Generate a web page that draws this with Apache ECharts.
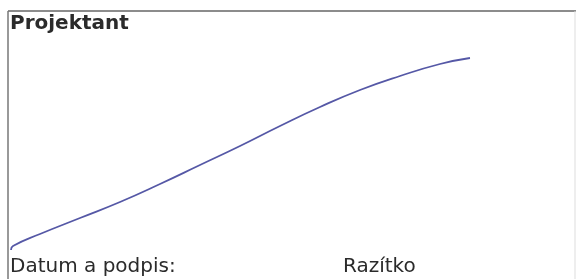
<!DOCTYPE html>
<html>
<head>
<meta charset="utf-8">
<script src="https://cdn.jsdelivr.net/npm/echarts@6/dist/echarts.min.js"></script>
<style>
  html, body { margin: 0; padding: 0; background: #fff; }
  #chart { width: 577px; height: 279px; }
</style>
</head>
<body>
<div id="chart"></div>
<script>
// signature stroke (x across, y down the page)
const strokeX = [11, 13, 40, 80, 120, 160, 200, 240, 280, 320, 360, 400, 440, 470];
const strokeY = [250, 246, 234, 218, 202, 184, 165, 146, 126, 107, 90, 76, 64, 58];

const labels = ["Projektant", "Datum a podpis:", "Razítko"];

const chart = echarts.init(document.getElementById("chart"));

chart.setOption({
  animation: false,
  title: [
    {
      text: labels[0],
      left: 10,
      top: 14,
      padding: 0,
      textStyle: { fontFamily: "DejaVu Sans", fontWeight: "bold", fontSize: 20, color: "#2b2b2b" },
    },
    {
      text: labels[1],
      left: 10,
      top: 257,
      padding: 0,
      textStyle: { fontFamily: "DejaVu Sans", fontWeight: "normal", fontSize: 20, color: "#2b2b2b" },
    },
    {
      text: labels[2],
      left: 343,
      top: 257,
      padding: 0,
      textStyle: { fontFamily: "DejaVu Sans", fontWeight: "normal", fontSize: 20, color: "#2b2b2b" },
    },
  ],
  grid: { left: 0, right: 0, top: 0, bottom: 0 },
  xAxis: { type: "value", min: 0, max: 577, show: false },
  yAxis: { type: "value", min: 0, max: 279, inverse: true, show: false },
  graphic: [
    { type: "line", shape: { x1: 8, y1: 11, x2: 576, y2: 11 }, style: { stroke: "#666", lineWidth: 1.5 } },
    { type: "line", shape: { x1: 8, y1: 11, x2: 8, y2: 279 }, style: { stroke: "#777", lineWidth: 1.5 } },
    { type: "line", shape: { x1: 575, y1: 11, x2: 575, y2: 279 }, style: { stroke: "#ddd", lineWidth: 1 } },
  ],
  series: [
    {
      type: "line",
      smooth: true,
      symbol: "none",
      data: strokeX.map((x, i) => [x, strokeY[i]]),
      lineStyle: { width: 1.8, color: "#5558a6" },
    },
  ],
});
</script>
</body>
</html>
